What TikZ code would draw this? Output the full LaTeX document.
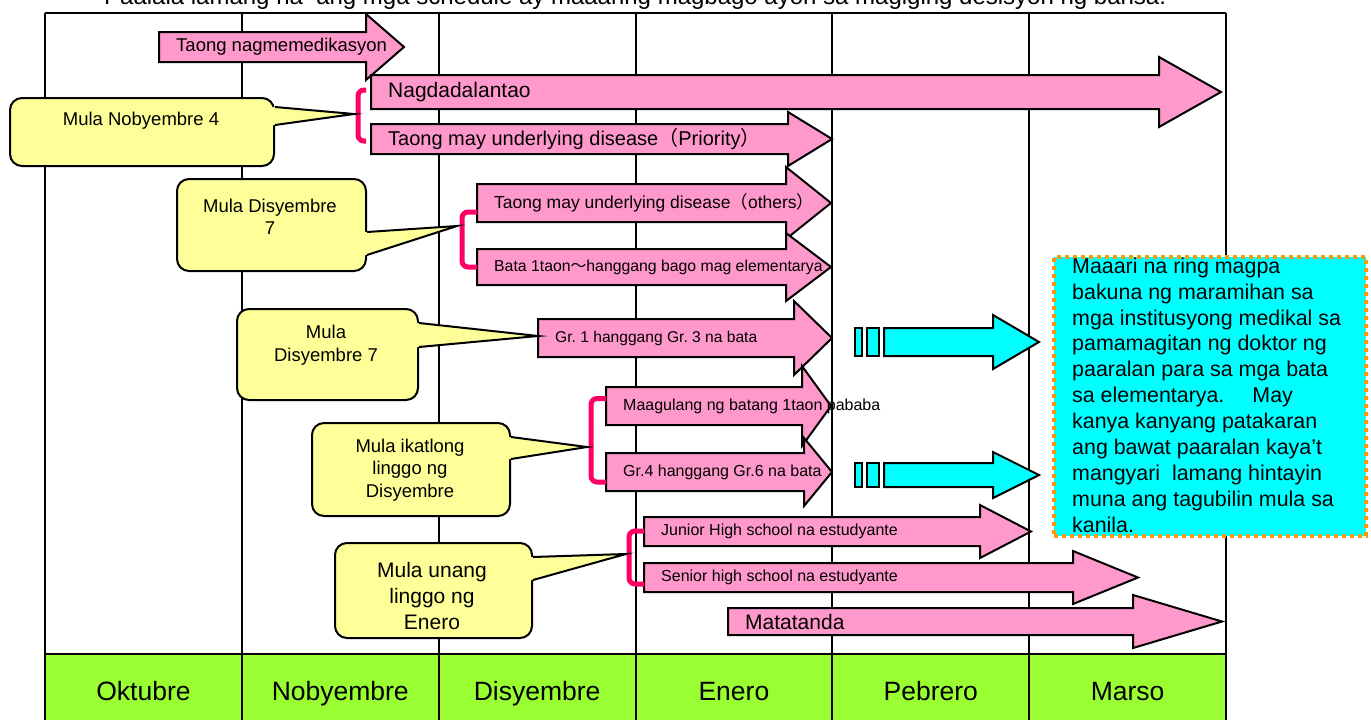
\documentclass[tikz,border=0pt]{standalone}
\usepackage{fontspec}
\setmainfont{Liberation Sans}
\newfontfamily\cjk{Noto Sans CJK JP}
\frenchspacing
\definecolor{pinkfill}{HTML}{FF99CC}
\definecolor{cyanfill}{HTML}{00FFFF}
\definecolor{callfill}{HTML}{FFFF99}
\definecolor{monthfill}{HTML}{99FF33}
\definecolor{bracketred}{HTML}{FF0066}
\definecolor{noteborder}{HTML}{FF9900}
\tikzset{
  gridline/.style = {line width = 2.2pt},
  pinkarrow/.style = {draw, line width = 2pt, fill = pinkfill},
  cyanarrow/.style = {draw, line width = 2pt, fill = cyanfill},
  arrowtext/.style = {anchor = west, inner sep = 0pt},
  bracket/.style = {draw = bracketred, line width = 5pt, rounded corners = 6pt},
  callbox/.style = {draw, line width = 2pt, fill = callfill, rounded corners = 12pt, anchor = north west, inner sep = 0pt},
  calltext/.style = {align = center, inner sep = 0pt, font = \fontsize{18.5}{22.5}\selectfont},
  month/.style = {anchor = base, font = \fontsize{26.5}{30}\selectfont},
  notebox/.style = {draw = noteborder, line width = 4pt, dash pattern = on 4pt off 4pt, fill = cyanfill, anchor = north west, inner sep = 0pt},
  notetext/.style = {anchor = north west, inner sep = 0pt, align = left, font = \fontsize{21.4}{25.9}\selectfont}
}
\begin{document}
\begin{tikzpicture}[x = 1pt, y = 1pt, yscale = -1]
\useasboundingbox (0,0) rectangle (1371,720);
\node[anchor = base west, inner sep = 0pt, font = \fontsize{24}{28}\selectfont] (title) at (80,5)
  {{\cjk ・}Paalala lamang na\ \ ang mga schedule ay maaaring magbago ayon sa magiging desisyon ng bansa.};
% month band and grid
\fill[monthfill] (45,654) rectangle (1226,720);
\foreach \x in {45,242,439,636,832,1029,1226}
  \draw[gridline] (\x,13) -- (\x,720);
\draw[gridline] (45,13) -- (1226,13) (45,654) -- (1226,654);
\foreach \m [count = \i] in {Oktubre,Nobyembre,Disyembre,Enero,Pebrero,Marso}
  \node[month] (month\i) at (45+196.83*\i-98.4,700) {\m};
% pink arrows
\foreach \id/\xl/\xb/\xt/\yc/\bh/\hh/\fsz/\txt in {
  medik/159/366/404/47/15/33/18.5/Taong nagmemedikasyon,
  buntis/371/1159/1221/92/17/35/21/Nagdadalantao,
  prio/371/788/832/139/15/27/20/{Taong may underlying disease{\cjk （}Priority{\cjk ）}},
  others/477/786/831/203/19/36/17.5/{Taong may underlying disease{\cjk （}others{\cjk ）}},
  bata/477/786/831/267/18/34/15.8/{Bata 1taon{\cjk ～}hanggang bago mag elementarya},
  grade13/538/794/832/338/19/37/15.6/Gr. 1 hanggang Gr. 3 na bata,
  maagulang/606/802/831/406/19/40/16/Maagulang ng batang 1taon pababa,
  grade46/606/804/832/472/19/34/16/Gr.4 hanggang Gr.6 na bata,
  junior/644/980/1031/531.5/14.5/26.5/16/Junior High school na estudyante,
  senior/644/1073/1138/577.5/14.5/26.5/16/Senior high school na estudyante,
  matanda/728/1133/1222/621.5/13.5/26.5/21/Matatanda}
{
  \draw[pinkarrow] (\xl,\yc-\bh) -- (\xb,\yc-\bh) -- (\xb,\yc-\hh) -- (\xt,\yc)
    -- (\xb,\yc+\hh) -- (\xb,\yc+\bh) -- (\xl,\yc+\bh) -- cycle;
  \node[arrowtext, font = \fontsize{\fsz}{\fsz}\selectfont] (\id) at (\xl+17,\yc) {\txt};
}
% brackets
\draw[bracket] (366,90) -- (358,90) -- (358,141) -- (366,141);
\draw[bracket] (477,212) -- (462,212) -- (462,267) -- (477,267);
\draw[bracket] (606,398.5) -- (591,398.5) -- (591,482) -- (606,482);
\draw[bracket] (644,531) -- (629,531) -- (629,584) -- (644,584);
\coordinate (tipnov) at (354,114);
\coordinate (tipdec) at (457,226);
\coordinate (tipgr) at (538,336);
\coordinate (tipweek) at (587,447);
\coordinate (tipjan) at (626,554);
% callouts
\node[callbox, minimum width = 264pt, minimum height = 68pt] (nov) at (9,97) {};
\node[callbox, minimum width = 189pt, minimum height = 92pt] (dec) at (176,178) {};
\node[callbox, minimum width = 181pt, minimum height = 91pt] (gr) at (236,308) {};
\node[callbox, minimum width = 198pt, minimum height = 93pt] (week) at (311,422) {};
\node[callbox, minimum width = 197pt, minimum height = 95pt] (jan) at (334,542) {};
\foreach \id/\ya/\yb in {nov/107/125, dec/232/255, gr/323/347, week/437/459, jan/557/580}
{
  \fill[callfill] (\id.east |- 0,\ya) -- (tip\id) -- (\id.east |- 0,\yb) -- ++(-4,0) -- ++(0,\ya-\yb) -- cycle;
  \draw[line width = 2pt] (\id.east |- 0,\ya) -- (tip\id) -- (\id.east |- 0,\yb);
}
\node[calltext] (novtxt) at (141,121) {Mula Nobyembre 4};
\node[calltext] (dectxt) at (270,217) {Mula Disyembre\\7};
\node[calltext] (grtxt) at (326,345) {Mula\\Disyembre 7};
\node[calltext] (weektxt) at (410,470) {Mula ikatlong\\linggo ng\\Disyembre};
\node[calltext, font = \fontsize{21}{26}\selectfont] (jantxt) at (432,596) {Mula unang\\linggo ng\\Enero};
% cyan arrows
\foreach \yc/\bh/\hh in {342/14/27, 475/12/23}
{
  \draw[cyanarrow] (855,\yc-\bh) rectangle (862,\yc+\bh);
  \draw[cyanarrow] (867,\yc-\bh) rectangle (879,\yc+\bh);
  \draw[cyanarrow] (884,\yc-\bh) -- (993,\yc-\bh) -- (993,\yc-\hh) -- (1039,\yc)
    -- (993,\yc+\hh) -- (993,\yc+\bh) -- (884,\yc+\bh) -- cycle;
}
% note
\node[notebox, minimum width = 312pt, minimum height = 279pt] (note) at (1052,255) {};
\node[notetext] (notetxt) at (1072,257.5) {Maaari na ring magpa\\bakuna ng maramihan sa\\mga institusyong medikal sa\\pamamagitan ng doktor ng\\paaralan para sa mga bata\\sa elementarya.\hspace{28pt}May\\kanya kanyang patakaran\\ang bawat paaralan kaya’t\\mangyari\ \ lamang hintayin\\muna ang tagubilin mula sa\\kanila.};
\end{tikzpicture}
\end{document}
